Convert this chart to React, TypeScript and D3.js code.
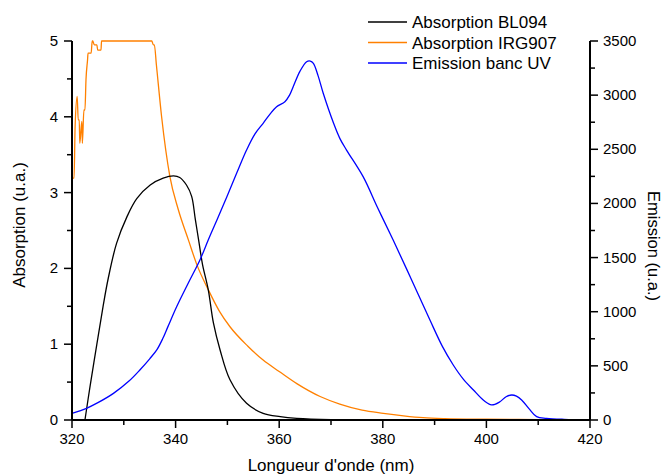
import React from "react";
import * as d3 from "d3";

const blackX = [322.5, 323.5, 324.8, 326, 327, 328.6, 330.6, 332.5, 335.1, 337.6, 339.6, 340.8, 342.1, 343.1, 343.8, 344.5, 345.2, 346.3, 347.3, 348.6, 350.5, 353.7, 356.9, 360.2, 363.4, 370, 380, 420];
const blackY = [0, 0.45, 1.0, 1.5, 1.87, 2.33, 2.68, 2.92, 3.1, 3.19, 3.22, 3.2, 3.1, 2.95, 2.65, 2.35, 2.05, 1.72, 1.28, 0.92, 0.53, 0.22, 0.088, 0.044, 0.022, 0.005, 0, 0];

const orangeX = [320.0, 320.4, 320.6, 321.0, 321.2, 321.4, 321.5, 321.9, 322.0, 322.3, 322.5, 322.7, 323.0, 323.1, 323.7, 323.9, 324.0, 324.3, 324.8, 324.96, 325.6, 325.7, 335.4, 335.7, 335.9, 336.3, 337.3, 338.9, 340.5, 342.5, 344.1, 346.3, 348.5, 350.5, 354, 356.9, 360, 363.4, 367.9, 371.7, 376, 380.1, 384, 387.8, 392, 400, 410, 420];
const orangeY = [3.19, 3.19, 3.87, 4.27, 3.96, 3.96, 3.65, 3.94, 3.65, 4.09, 4.09, 4.49, 4.75, 4.84, 4.84, 5.0, 5.0, 4.95, 4.95, 4.88, 4.88, 5.0, 5.0, 4.95, 4.95, 4.68, 4.0, 3.21, 2.78, 2.37, 2.05, 1.72, 1.43, 1.23, 0.97, 0.79, 0.64, 0.48, 0.31, 0.21, 0.13, 0.088, 0.055, 0.03, 0.018, 0.01, 0.005, 0.003];

const blueX = [320, 322.8, 325, 328, 331, 333.1, 335, 336.4, 337.5, 338.5, 340.2, 342.5, 344.7, 346.3, 348, 349.9, 351.8, 353.7, 355.3, 356.9, 358.3, 359.5, 361.1, 362, 362.7, 364, 365.3, 366, 366.6, 367.5, 368.5, 370.5, 371.7, 373.0, 376.2, 379, 382, 385.5, 389.1, 391.5, 393.6, 395.5, 397.5, 399.5, 401, 402.5, 403.8, 404.9, 405.8, 406.8, 408.3, 409.7, 411.6, 415, 420];
const blueY = [62, 108, 160, 246, 360, 462, 565, 650, 750, 860, 1046, 1270, 1478, 1662, 1850, 2062, 2280, 2493, 2640, 2740, 2830, 2893, 2939, 3000, 3078, 3220, 3309, 3315, 3294, 3180, 3017, 2740, 2601, 2493, 2247, 1960, 1662, 1300, 923, 680, 508, 380, 277, 180, 139, 165, 215, 231, 220, 185, 100, 31, 15, 6, 2];

const xTicks = [320, 340, 360, 380, 400, 420];
const xMinor = [330, 350, 370, 390, 410];
const yLeftTicks = [0, 1, 2, 3, 4, 5];
const yLeftMinor = [0.5, 1.5, 2.5, 3.5, 4.5];
const yRightTicks = [0, 500, 1000, 1500, 2000, 2500, 3000, 3500];
const yRightMinor = [250, 750, 1250, 1750, 2250, 2750, 3250];

const seriesNames = ["Absorption BL094", "Absorption IRG907", "Emission banc UV"];
const seriesColors = ["#000000", "#FF8000", "#0000FF"];

const W = 664, H = 476;
const L = 72, R = 590, T = 41, B = 420;
const FONT = "'Liberation Sans', Arial, sans-serif";

export default function App() {
  const x = d3.scaleLinear().domain([320, 420]).range([L, R]);
  const yL = d3.scaleLinear().domain([0, 5]).range([B, T]);
  const yR = d3.scaleLinear().domain([0, 3500]).range([B, T]);

  const mk = (xs: number[], ys: number[], ys2: any, curve: any) =>
    d3.line<number>().x((_, i) => x(xs[i])).y((_, i) => ys2(ys[i])).curve(curve)(xs.map((_, i) => i)) || "";

  const blackPath = mk(blackX, blackY, yL, d3.curveCatmullRom.alpha(0.5));
  const orangePath = mk(orangeX, orangeY, yL, d3.curveMonotoneX);
  const bluePath = mk(blueX, blueY, yR, d3.curveCatmullRom.alpha(0.5));

  return (
    <svg width={W} height={H} style={{ position: "absolute", left: 0, top: 0, background: "#fff" }} fontFamily={FONT}>
      <rect x={0} y={0} width={W} height={H} fill="#fff" />
      <path d={orangePath} fill="none" stroke={seriesColors[1]} strokeWidth={1.3} />
      <path d={blackPath} fill="none" stroke={seriesColors[0]} strokeWidth={1.3} />
      <path d={bluePath} fill="none" stroke={seriesColors[2]} strokeWidth={1.3} />

      {/* bottom axis */}
      <line x1={L} x2={R} y1={B} y2={B} stroke="#000" strokeWidth={2} />
      {xTicks.map((t) => (
        <g key={"xt" + t}>
          <line x1={x(t)} x2={x(t)} y1={B} y2={B + 8} stroke="#000" strokeWidth={1.5} />
          <text x={x(t)} y={B + 24} fontSize={15} textAnchor="middle">{t}</text>
        </g>
      ))}
      {xMinor.map((t) => (
        <line key={"xm" + t} x1={x(t)} x2={x(t)} y1={B} y2={B + 5} stroke="#000" strokeWidth={1.5} />
      ))}
      <text x={(L + R) / 2} y={471} fontSize={17} textAnchor="middle">Longueur d'onde (nm)</text>

      {/* left axis */}
      <line x1={L} x2={L} y1={T} y2={B} stroke="#000" strokeWidth={2} />
      {yLeftTicks.map((t) => (
        <g key={"yl" + t}>
          <line x1={L - 8} x2={L} y1={yL(t)} y2={yL(t)} stroke="#000" strokeWidth={1.5} />
          <text x={L - 14} y={yL(t) + 5} fontSize={15} textAnchor="end">{t}</text>
        </g>
      ))}
      {yLeftMinor.map((t) => (
        <line key={"ylm" + t} x1={L - 5} x2={L} y1={yL(t)} y2={yL(t)} stroke="#000" strokeWidth={1.5} />
      ))}
      <text transform={`translate(25,225) rotate(-90)`} fontSize={17} textAnchor="middle">Absorption (u.a.)</text>

      {/* right axis */}
      <line x1={R} x2={R} y1={T} y2={B} stroke="#000" strokeWidth={2} />
      {yRightTicks.map((t) => (
        <g key={"yr" + t}>
          <line x1={R} x2={R + 8} y1={yR(t)} y2={yR(t)} stroke="#000" strokeWidth={1.5} />
          <text x={R + 13} y={yR(t) + 5} fontSize={15} textAnchor="start">{t}</text>
        </g>
      ))}
      {yRightMinor.map((t) => (
        <line key={"yrm" + t} x1={R} x2={R + 5} y1={yR(t)} y2={yR(t)} stroke="#000" strokeWidth={1.5} />
      ))}
      <text transform={`translate(648,246) rotate(90)`} fontSize={16.5} textAnchor="middle">Emission (u.a.)</text>

      {/* legend */}
      {seriesNames.map((n, i) => (
        <g key={n}>
          <line x1={368} x2={407} y1={22 + i * 20.5} y2={22 + i * 20.5} stroke={seriesColors[i]} strokeWidth={1.3} />
          <text x={412} y={22 + i * 20.5 + 6} fontSize={17}>{n}</text>
        </g>
      ))}
    </svg>
  );
}
